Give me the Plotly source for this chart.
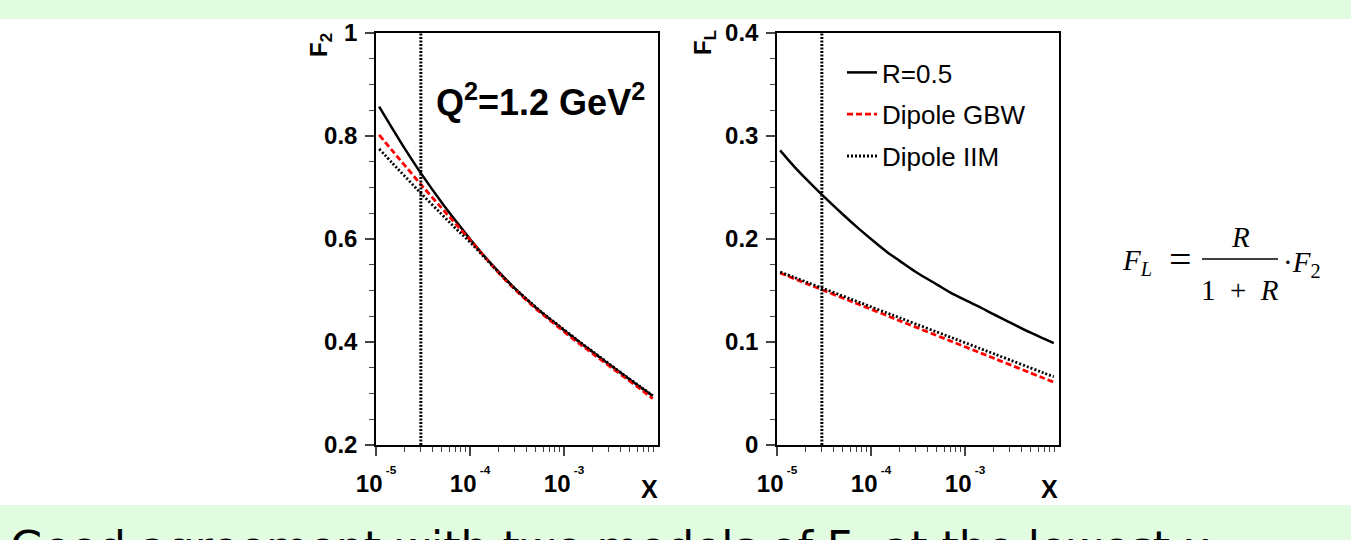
import plotly.graph_objects as go

W, H = 1351, 540

# ---------------- data ----------------
x_vals = [1.08e-5, 1.5e-5, 2e-5, 3e-5, 5e-5, 7e-5, 1e-4, 1.5e-4, 2e-4, 3e-4,
          5e-4, 7e-4, 1e-3, 1.5e-3, 2e-3, 3e-3, 5e-3, 7e-3, 8.8e-3]

f2_r05 = [0.857, 0.814, 0.777, 0.728, 0.671, 0.636, 0.600, 0.562, 0.537, 0.504,
          0.467, 0.445, 0.423, 0.398, 0.381, 0.357, 0.327, 0.308, 0.295]
f2_gbw = [0.802, 0.771, 0.744, 0.706, 0.660, 0.630, 0.598, 0.561, 0.535, 0.502,
          0.465, 0.443, 0.420, 0.395, 0.378, 0.354, 0.324, 0.304, 0.290]
f2_iim = [0.775, 0.747, 0.723, 0.689, 0.648, 0.621, 0.594, 0.560, 0.536, 0.504,
          0.468, 0.446, 0.424, 0.399, 0.382, 0.358, 0.328, 0.309, 0.296]

fl_r05 = [0.286, 0.271, 0.259, 0.243, 0.224, 0.212, 0.200, 0.187, 0.179, 0.168,
          0.156, 0.148, 0.141, 0.133, 0.127, 0.119, 0.109, 0.103, 0.099]
fl_gbw = [0.167, 0.1618, 0.1572, 0.1508, 0.1427, 0.1374, 0.1318, 0.1254, 0.1208, 0.1144,
          0.1063, 0.1010, 0.0954, 0.0890, 0.0844, 0.0780, 0.0699, 0.0646, 0.061]
fl_iim = [0.168, 0.163, 0.1586, 0.1525, 0.1447, 0.1396, 0.1342, 0.1280, 0.1237, 0.1175,
          0.1098, 0.1047, 0.0993, 0.0931, 0.0888, 0.0826, 0.0748, 0.0697, 0.0663]

x_cut = 3e-5
series_names = ["R=0.5", "Dipole GBW", "Dipole IIM"]

x_tickvals = [1e-5, 1e-4, 1e-3]
x_exponents = ["-5", "-4", "-3"]
x_minor = [m * 10.0 ** e for e in (-5, -4, -3) for m in range(2, 10)]

y1_tickvals = [0.2, 0.4, 0.6, 0.8, 1.0]
y1_ticktext = ["0.2", "0.4", "0.6", "0.8", "1"]
y2_tickvals = [0.0, 0.1, 0.2, 0.3, 0.4]
y2_ticktext = ["0", "0.1", "0.2", "0.3", "0.4"]

# ---------------- helpers ----------------
def px(x):
    return x / W

def py(y):
    return 1 - y / H

FONT = "Liberation Sans"
styles = [
    dict(color="black", width=2.5, dash="solid"),
    dict(color="red", width=2.8, dash="6px,3px"),
    dict(color="black", width=2.8, dash="2px,2px"),
]

x_ticktext = ["10<sup><sup> %s</sup></sup>" % e for e in x_exponents]

fig = go.Figure()

for i, ys in enumerate([f2_r05, f2_gbw, f2_iim]):
    fig.add_trace(go.Scatter(x=x_vals, y=ys, mode="lines", line=dict(shape="spline", **styles[i]),
                             xaxis="x", yaxis="y", showlegend=False, name=series_names[i]))
for i, ys in enumerate([fl_r05, fl_gbw, fl_iim]):
    fig.add_trace(go.Scatter(x=x_vals, y=ys, mode="lines", line=dict(shape="spline", **styles[i]),
                             xaxis="x2", yaxis="y2", showlegend=True, name=series_names[i],
                             legendgroup=series_names[i]))

# vertical dotted marker line
for xa, ya, yr in (("x", "y", [0.2, 1.0]), ("x2", "y2", [0.0, 0.4])):
    fig.add_trace(go.Scatter(x=[x_cut, x_cut], y=yr, mode="lines",
                             line=dict(color="black", width=3, dash="2px,1.5px"),
                             xaxis=xa, yaxis=ya, showlegend=False, hoverinfo="skip"))

tickfont = dict(family=FONT, size=24, color="black", weight="bold")

def xaxis_common(domain, anchor):
    return dict(domain=domain, anchor=anchor, type="log", range=[-5, -2],
                tickmode="array", tickvals=x_tickvals, ticktext=x_ticktext,
                ticks="outside", ticklen=9, tickwidth=1.5, tickcolor="#444",
                minor=dict(tickmode="array", tickvals=x_minor, ticks="outside",
                           ticklen=5, tickwidth=1.2, tickcolor="#444"),
                showline=True, linecolor="black", linewidth=1.5, mirror=True,
                showgrid=False, zeroline=False, tickfont=tickfont,
                ticklabelstandoff=7, automargin=False)

def yaxis_common(domain, anchor, vals, text, rng, minor_dt):
    return dict(domain=domain, anchor=anchor, range=rng,
                tickmode="array", tickvals=vals, ticktext=text,
                ticks="outside", ticklen=9, tickwidth=1.5, tickcolor="#444",
                minor=dict(dtick=minor_dt, ticks="outside", ticklen=5,
                           tickwidth=1.2, tickcolor="#444"),
                showline=True, linecolor="black", linewidth=1.5, mirror=True,
                showgrid=False, zeroline=False, tickfont=tickfont,
                ticklabelstandoff=3, automargin=False)

ydom = [py(445), py(33)]
fig.update_layout(
    width=W, height=H,
    margin=dict(l=0, r=0, t=0, b=0, pad=0, autoexpand=False),
    paper_bgcolor="white", plot_bgcolor="white",
    xaxis=xaxis_common([px(376), px(658)], "y"),
    yaxis=yaxis_common(ydom, "x", y1_tickvals, y1_ticktext, [0.2, 1.0], 0.05),
    xaxis2=xaxis_common([px(777), px(1059)], "y2"),
    yaxis2=yaxis_common(ydom, "x2", y2_tickvals, y2_ticktext, [0.0, 0.4], 0.025),
    legend=dict(x=px(842), y=py(49), xanchor="left", yanchor="top",
                font=dict(family=FONT, size=26, color="black"),
                bgcolor="rgba(0,0,0,0)", tracegroupgap=5, itemwidth=30),
    showlegend=True,
)

green = "#E1FCE1"
fig.add_shape(type="rect", xref="paper", yref="paper", x0=0, x1=1, y0=py(19), y1=1,
              fillcolor=green, line=dict(width=0), layer="below")
fig.add_shape(type="rect", xref="paper", yref="paper", x0=0, x1=1, y0=0, y1=py(505),
              fillcolor=green, line=dict(width=0), layer="below")

ann = []
ann.append(dict(x=px(540), y=py(100), text="<b>Q<sup>2</sup>=1.2 GeV<sup>2</sup></b>",
                font=dict(family=FONT, size=36, color="black")))
ann.append(dict(x=px(320), y=py(45), text="<b>F<sub>2</sub></b>", textangle=-90,
                font=dict(family=FONT, size=24, color="black")))
ann.append(dict(x=px(705), y=py(43), text="<b>F<sub>L</sub></b>", textangle=-90,
                font=dict(family=FONT, size=24, color="black")))
ann.append(dict(x=px(649), y=py(489), text="<b>X</b>",
                font=dict(family=FONT, size=25, color="black")))
ann.append(dict(x=px(1049), y=py(489), text="<b>X</b>",
                font=dict(family=FONT, size=25, color="black")))

SERIF = "Liberation Serif"
ann.append(dict(x=px(1120), y=py(262), xanchor="left", text="<i>F<sub>L</sub></i>",
                font=dict(family=SERIF, size=29, color="black")))
ann.append(dict(x=px(1180), y=py(259), text="=",
                font=dict(family=SERIF, size=40, color="black")))
ann.append(dict(x=px(1240), y=py(237), text="<i>R</i>",
                font=dict(family=SERIF, size=29, color="black")))
ann.append(dict(x=px(1240), y=py(290), text="1\u2002+\u2002<i>R</i>",
                font=dict(family=SERIF, size=29, color="black")))
ann.append(dict(x=px(1281), y=py(264), xanchor="left", text="·<i>F</i><sub>2</sub>",
                font=dict(family=SERIF, size=29, color="black")))
fig.add_shape(type="line", xref="paper", yref="paper", x0=px(1202), x1=px(1278),
              y0=py(259), y1=py(259), line=dict(color="black", width=1.5))

ann.append(dict(x=px(8), y=py(520), xanchor="left", yanchor="top",
                text="Good agreement with two models of F<sub>L</sub> at the lowest x",
                font=dict(family="DejaVu Sans", size=44, color="black")))

for a in ann:
    a.setdefault("xref", "paper")
    a.setdefault("yref", "paper")
    a.setdefault("showarrow", False)
    a.setdefault("xanchor", "center")
    a.setdefault("yanchor", "middle")
fig.update_layout(annotations=ann)

fig.write_html("out.html")
